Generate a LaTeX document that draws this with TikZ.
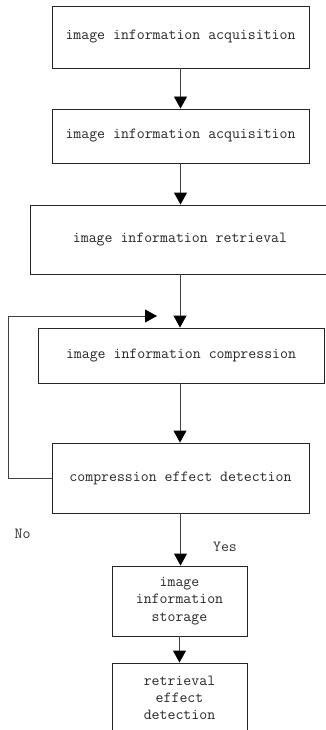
\documentclass[tikz,border=0pt]{standalone}
\usepackage{fontspec}
\usetikzlibrary{arrows.meta}
\begin{document}
\begin{tikzpicture}[x=1pt,y=-1pt,
  box/.style={draw=black!85, line width=0.9pt, rectangle, inner sep=2pt,
    align=center, text=black!85,
    font=\ttfamily\fontsize{15.4}{17.3}\selectfont},
  flow/.style={draw=black!75, line width=0.9pt,
    -{Triangle[width=13pt,length=12pt,fill=black,color=black]}},
  lbl/.style={text=black!80, font=\ttfamily\fontsize{15.4}{16}\selectfont}]
\useasboundingbox (0,0) rectangle (326,730);

% process boxes
\node[box, minimum width=257pt, minimum height=62pt] (b1) at (180.5,37) {image information acquisition};
\node[box, minimum width=257pt, minimum height=54pt] (b2) at (180.5,136) {image information acquisition};
\node[box, minimum width=300pt, minimum height=69pt] (b3) at (180,239.5) {image information retrieval};
\node[box, minimum width=286pt, minimum height=55pt] (b4) at (181,355.5) {image information compression};
\node[box, minimum width=257pt, minimum height=70pt] (b5) at (180.5,478) {compression effect detection};
\node[box, minimum width=135pt, minimum height=70pt] (b6) at (179.5,601) {image\\information\\storage};
\node[box, minimum width=135pt, minimum height=70pt] (b7) at (179.5,698) {retrieval\\effect\\detection};

% branch labels
\node[lbl] (no) at (22.5,534) {No};
\node[lbl] (yes) at (225,547) {Yes};

% main flow
\draw[flow] (b1.south) -- (b2.north);
\draw[flow] (b2.south) -- (b2.south |- b3.north);
\draw[flow] (b3.south) -- (b3.south |- b4.north);
\draw[flow] (b4.south -| b3.south) -- (b3.south |- b5.north);
\draw[flow] (b5.south) -- (b5.south |- b6.north);
\draw[flow] (b6.south) -- (b7.north);

% feedback loop back to compression
\coordinate (fbcorner) at (8,316);
\coordinate (fbend) at (157,316);
\draw[flow] (b5.west) -| (fbcorner) -- (fbend);
\end{tikzpicture}
\end{document}
